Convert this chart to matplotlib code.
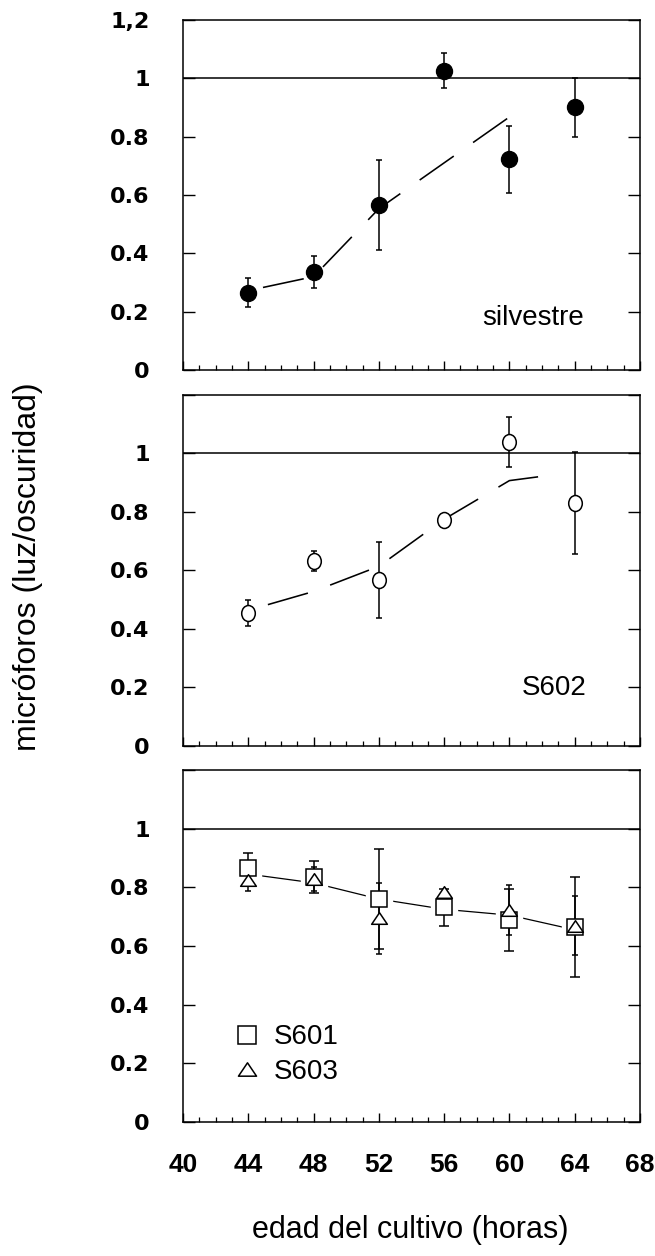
import matplotlib.pyplot as plt
from matplotlib.path import Path
from matplotlib.transforms import Affine2D
from matplotlib.ticker import MultipleLocator
from matplotlib.lines import Line2D

plt.rcParams['lines.scale_dashes'] = False

horas = [44, 48, 52, 56, 60, 64]

# silvestre
silv = [0.265, 0.337, 0.566, 1.026, 0.723, 0.90]
silv_err = [0.05, 0.055, 0.155, 0.06, 0.115, 0.10]
silv_tend_x = [44.9, 48, 52, 60.6]
silv_tend_y = [0.283, 0.32, 0.553, 0.891]

# S602
s602 = [0.454, 0.633, 0.568, 0.771, 1.04, 0.831]
s602_err = [0.045, 0.035, 0.13, 0.0, 0.085, 0.175]
s602_tend_x = [45.2, 48, 52, 56, 60, 63.0]
s602_tend_y = [0.483, 0.528, 0.614, 0.775, 0.907, 0.929]

# S601 y S603
s601 = [0.865, 0.835, 0.759, 0.732, 0.688, 0.665]
s601_err = [0.053, 0.053, 0.17, 0.063, 0.105, 0.17]
s603 = [0.825, 0.829, 0.694, 0.783, 0.724, 0.669]
s603_err = [0.036, 0.04, 0.12, 0.0, 0.085, 0.10]
bajo_tend = [0.845, 0.815, 0.76, 0.725, 0.705, 0.655]

yticks = [0, 0.2, 0.4, 0.6, 0.8, 1, 1.2]
ylabels_top = ['0', '0.2', '0.4', '0.6', '0.8', '1', '1,2']
ylabels = ['0', '0.2', '0.4', '0.6', '0.8', '1', '']
xticks = [40, 44, 48, 52, 56, 60, 64, 68]

TXT = 'Liberation Sans'

# marcadores: elipse vertical y triangulo achatado
elipse = Path.unit_circle().transformed(Affine2D().scale(0.85, 1.0))
triang = Path([(0, 0.37), (-0.5, -0.37), (0.5, -0.37), (0, 0.37)],
              [Path.MOVETO, Path.LINETO, Path.LINETO, Path.CLOSEPOLY])

fig = plt.figure(figsize=(6.55, 12.56), dpi=100)
left, width = 0.2794, 0.6977
ax1 = fig.add_axes([left, 0.7054, width, 0.2787])
ax2 = fig.add_axes([left, 0.4061, width, 0.2795])
ax3 = fig.add_axes([left, 0.1067, width, 0.2803])

for ax in (ax1, ax2, ax3):
    ax.set_xlim(40, 68)
    ax.set_ylim(0, 1.2)
    ax.axhline(1, color='black', lw=1.1, zorder=1)
    for sp in ax.spines.values():
        sp.set_linewidth(1.1)
    ax.set_xticks(xticks)
    ax.xaxis.set_minor_locator(MultipleLocator(1))
    ax.tick_params(axis='x', which='major', direction='in', length=6.5,
                   width=1, top=False, pad=22)
    ax.tick_params(axis='x', which='minor', direction='in', length=3.5,
                   width=0.9, top=False)
    ax.tick_params(axis='y', direction='in', length=8.6, width=1,
                   left=True, right=True, pad=24)
    ax.set_yticks(yticks)
    ax.set_yticklabels(ylabels, fontfamily='DejaVu Sans',
                       fontweight='bold', fontsize=16)

ax1.set_yticklabels(ylabels_top, fontfamily='DejaVu Sans',
                    fontweight='bold', fontsize=16)
ax1.set_xticklabels([])
ax2.set_xticklabels([])
ax3.set_xticklabels([str(v) for v in xticks], fontfamily=TXT,
                    fontweight='bold', fontsize=19)

# panel superior: silvestre
ax1.plot(silv_tend_x, silv_tend_y, color='black', lw=1.15,
         linestyle=(0, (30, 17)), zorder=2)
ax1.errorbar(horas, silv, yerr=silv_err, fmt='none', ecolor='black',
             elinewidth=1.1, capsize=2, capthick=1.1, zorder=3)
ax1.plot(horas, silv, linestyle='none', marker='o', markersize=11.5,
         color='black', zorder=4)
ax1.text(0.878, 0.15, 'silvestre', transform=ax1.transAxes, ha='right',
         va='center', fontsize=20, fontfamily=TXT)

# panel medio: S602
ax2.plot(s602_tend_x, s602_tend_y, color='black', lw=1.15,
         linestyle=(0, (30, 17)), zorder=2)
ax2.errorbar(horas, s602, yerr=s602_err, fmt='none', ecolor='black',
             elinewidth=1.1, capsize=2, capthick=1.1, zorder=3)
ax2.plot(horas, s602, linestyle='none', marker=elipse, markersize=11.5,
         markerfacecolor='white', markeredgecolor='black',
         markeredgewidth=1.1, zorder=4)
ax2.text(0.882, 0.165, 'S602', transform=ax2.transAxes, ha='right',
         va='center', fontsize=20, fontfamily=TXT)

# panel inferior: S601 y S603
ax3.plot(horas, bajo_tend, color='black', lw=0.9, zorder=2)
ax3.plot(horas, s601, linestyle='none', marker='s', markersize=19,
         markerfacecolor='white', markeredgecolor='white', zorder=2.5)
ax3.errorbar(horas, s601, yerr=s601_err, fmt='none', ecolor='black',
             elinewidth=1.1, capsize=3.5, capthick=1.1, zorder=3)
ax3.errorbar(horas, s603, yerr=s603_err, fmt='none', ecolor='black',
             elinewidth=1.1, capsize=2, capthick=1.1, zorder=3)
ax3.plot(horas, s601, linestyle='none', marker='s', markersize=11.5,
         markerfacecolor='white', markeredgecolor='black',
         markeredgewidth=1.1, zorder=4)
ax3.plot(horas, s603, linestyle='none', marker=triang, markersize=11.3,
         markerfacecolor='white', markeredgecolor='black',
         markeredgewidth=1.1, zorder=5)

handles = [
    Line2D([], [], linestyle='none', marker='s', markersize=13,
           markerfacecolor='white', markeredgecolor='black',
           markeredgewidth=1.1),
    Line2D([], [], linestyle='none', marker=triang, markersize=13,
           markerfacecolor='white', markeredgecolor='black',
           markeredgewidth=1.1),
]
ax3.legend(handles, ['S601', 'S603'], loc='lower left',
           bbox_to_anchor=(0.08, 0.065), frameon=False, handlelength=1.0,
           handletextpad=0.45, labelspacing=0.32, borderpad=0,
           prop={'family': TXT, 'size': 20})

fig.text(0.043, 0.549, 'micróforos (luz/oscuridad)', rotation=90,
         ha='center', va='center', fontsize=23, fontfamily=TXT)
fig.text(0.626, 0.021, 'edad del cultivo (horas)', ha='center',
         va='center', fontsize=22, fontfamily=TXT)

fig.savefig('out.png', dpi=100)
